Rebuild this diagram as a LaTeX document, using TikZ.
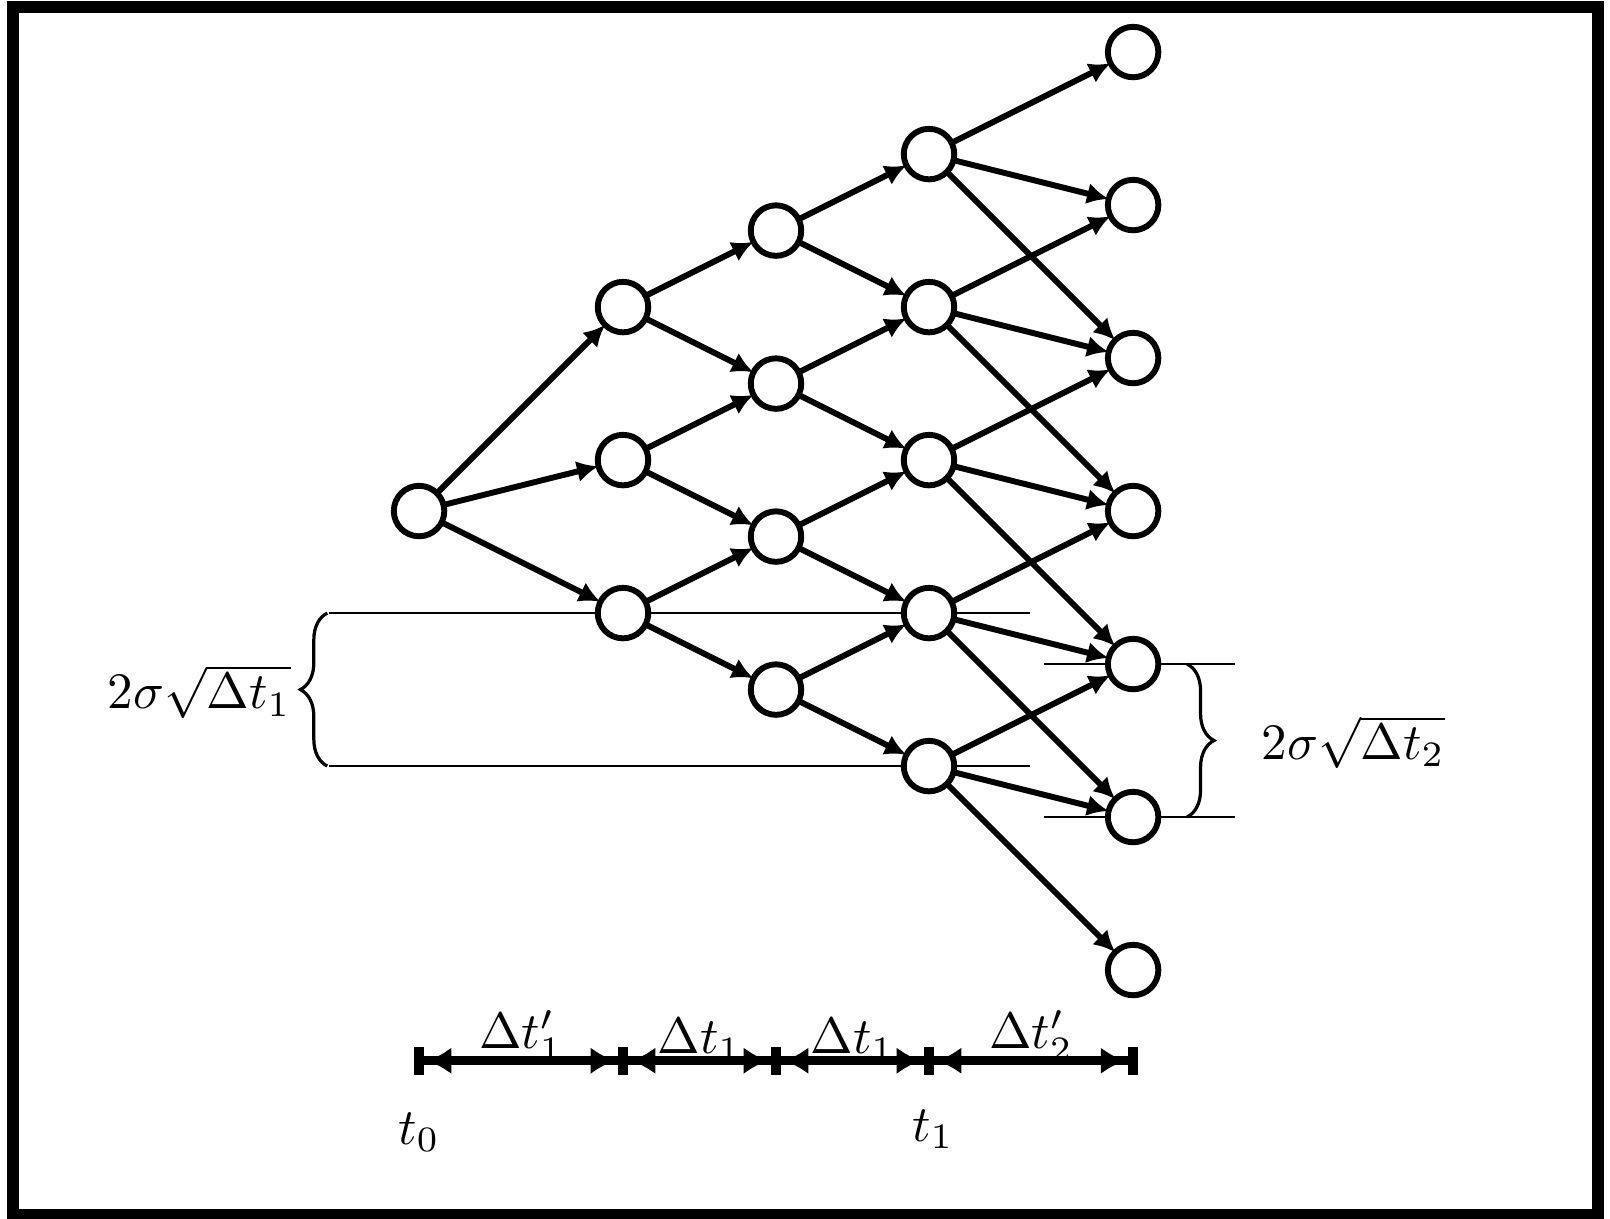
\documentclass[tikz,border=0pt]{standalone}
\usepackage{tikz}
\usetikzlibrary{arrows.meta, positioning, decorations.pathreplacing, calc, backgrounds, arrows}
\usepackage{amsmath, amssymb}

\tikzset{
  latnode/.style={circle, draw, fill=white, line width=1.1pt, minimum size=0.33cm, inner sep=0pt, outer sep=0pt},
  treeedge/.style={-{Latex[length=4pt,width=4pt]}, line width=1.1pt},
  guideline/.style={line width=0.5pt},
  spanbrace/.style={decorate, decoration={brace, amplitude=5pt}, line width=0.6pt},
  timeseg/.style={{Latex[length=4.6pt,width=5pt]}-{Latex[length=4.6pt,width=5pt]}, line width=1.7pt, shorten <=1.4pt, shorten >=1.4pt},
  timetick/.style={line width=1.8pt},
  lbl/.style={scale=0.95}
}

\begin{document}
\begin{tikzpicture}
\useasboundingbox (-2.739,-4.627) rectangle (7.784,3.340);
\draw[line width=2.2pt] (-2.654,-4.60) rectangle (7.706,3.294);

% lattice nodes
\node[latnode] (c0-0) at (0,0) {};
\foreach \i in {0,...,2}
  \node[latnode] (c1-\i) at (1.333,1.333-\i) {};
\foreach \i in {0,...,3}
  \node[latnode] (c2-\i) at (2.333,1.833-\i) {};
\foreach \i in {0,...,4}
  \node[latnode] (c3-\i) at (3.333,2.333-\i) {};
\foreach \i in {0,...,6}
  \node[latnode] (c4-\i) at (4.667,3-\i) {};

% branches (behind the nodes)
\begin{scope}[on background layer]
\foreach \i in {0,...,2}
  \draw[treeedge] (c0-0) -- (c1-\i);
\foreach \i [evaluate=\i as \j using int(\i+1)] in {0,...,2} {
  \draw[treeedge] (c1-\i) -- (c2-\i);
  \draw[treeedge] (c1-\i) -- (c2-\j);
}
\foreach \i [evaluate=\i as \j using int(\i+1)] in {0,...,3} {
  \draw[treeedge] (c2-\i) -- (c3-\i);
  \draw[treeedge] (c2-\i) -- (c3-\j);
}
\foreach \i [evaluate=\i as \j using int(\i+1), evaluate=\i as \k using int(\i+2)] in {0,...,4} {
  \draw[treeedge] (c3-\i) -- (c4-\i);
  \draw[treeedge] (c3-\i) -- (c4-\j);
  \draw[treeedge] (c3-\i) -- (c4-\k);
}
\end{scope}

% spacing marks
\coordinate (upA) at (-0.59,-0.667);
\coordinate (upB) at (3.99,-0.667);
\coordinate (loA) at (-0.59,-1.667);
\coordinate (loB) at (3.99,-1.667);
\coordinate (rtA) at (4.087,-1);
\coordinate (rtB) at (5.335,-1);
\coordinate (rbA) at (4.087,-2);
\coordinate (rbB) at (5.335,-2);
\begin{scope}[on background layer]
  \draw[guideline] (upA) -- (upB);
  \draw[guideline] (loA) -- (loB);
  \draw[guideline] (rtA) -- (rtB);
  \draw[guideline] (rbA) -- (rbB);
\end{scope}
\draw[spanbrace] (-0.6,-1.667) -- (-0.6,-0.667);
\draw[spanbrace] (5.02,-1) -- (5.02,-2);
\node[lbl, anchor=east] (wid1) at (-0.72,-1.18) {$2\sigma\sqrt{\Delta t_1}$};
\node[lbl, anchor=west] (wid2) at (5.39,-1.51) {$2\sigma\sqrt{\Delta t_2}$};

% time axis
\coordinate (tk0) at (0,-3.593);
\coordinate (tk1) at (1.333,-3.593);
\coordinate (tk2) at (2.333,-3.593);
\coordinate (tk3) at (3.333,-3.593);
\coordinate (tk4) at (4.667,-3.593);
\draw[line width=1.7pt] (tk0) -- (tk4);
\foreach \t in {0,...,4}
  \draw[timetick] ($(tk\t)+(0,0.09)$) -- ($(tk\t)+(0,-0.09)$);
\draw[timeseg] (tk0) -- node[lbl, midway, anchor=south, inner sep=0pt, yshift=-1pt] (dt0) {$\Delta t'_1$} (tk1);
\draw[timeseg] (tk1) -- node[lbl, midway, anchor=south, inner sep=0pt, yshift=-1pt] (dt1) {$\Delta t_1$} (tk2);
\draw[timeseg] (tk2) -- node[lbl, midway, anchor=south, inner sep=0pt, yshift=-1pt] (dt2) {$\Delta t_1$} (tk3);
\draw[timeseg] (tk3) -- node[lbl, midway, anchor=south, inner sep=0pt, yshift=-1pt] (dt3) {$\Delta t'_2$} (tk4);
\node[lbl] (tzero) at (0,-4.06) {$t_0$};
\node[lbl] (tone) at (3.36,-4.04) {$t_1$};
\end{tikzpicture}
\end{document}
